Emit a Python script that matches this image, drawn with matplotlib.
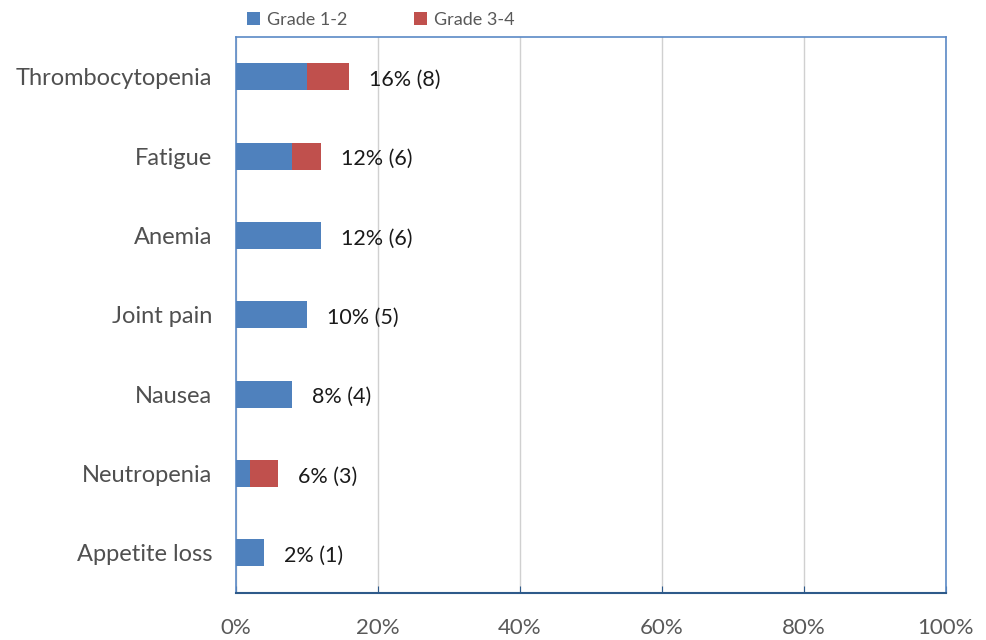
import matplotlib
matplotlib.use("Agg")
import matplotlib.pyplot as plt
from matplotlib.ticker import FuncFormatter

categories = ["Thrombocytopenia", "Fatigue", "Anemia", "Joint pain", "Nausea", "Neutropenia", "Appetite loss"]
grade12 = [10, 8, 12, 10, 8, 2, 4]
grade34 = [6, 4, 0, 0, 0, 4, 0]
labels = ["16% (8)", "12% (6)", "12% (6)", "10% (5)", "8% (4)", "6% (3)", "2% (1)"]
xticks = [0, 20, 40, 60, 80, 100]

plt.rcParams['font.family'] = ['Lato', 'DejaVu Sans']

fig = plt.figure(figsize=(9.86, 6.4), dpi=100)
ax = fig.add_axes([0.239, 0.074, 0.720, 0.868])

blue = "#4f81bd"
red = "#c0504d"
n = len(categories)
ys = [n - 1 - i for i in range(n)]
h = 0.34
ax.barh(ys, grade12, height=h, color=blue, label="Grade 1-2", zorder=3)
ax.barh(ys, grade34, left=grade12, height=h, color=red, label="Grade 3-4", zorder=3)

for y, a, b, t in zip(ys, grade12, grade34, labels):
    ax.annotate(t, xy=(a + b, y), xytext=(20, -3), textcoords="offset pixels",
                va="center", ha="left", fontsize=15.5, color="#1a1a1a")

ax.set_xlim(0, 100)
ax.set_ylim(-0.5, n - 0.5)
ax.set_xticks(xticks)
ax.xaxis.set_major_formatter(FuncFormatter(lambda v, p: f"{int(v)}%"))
ax.set_yticks(ys)
ax.set_yticklabels(categories)
ax.tick_params(axis="y", length=0, pad=17, labelsize=17, labelcolor="#505050")
ax.tick_params(axis="x", direction="in", length=5, color="#2e5a8a", pad=18, labelsize=16, labelcolor="#595959")
ax.grid(axis="x", color="#d0d0d0", linewidth=1, zorder=0)

for s in ["top", "right", "left"]:
    ax.spines[s].set_color("#5b8ac6")
    ax.spines[s].set_linewidth(1.2)
ax.spines["bottom"].set_color("#2e5a8a")
ax.spines["bottom"].set_linewidth(1.5)

leg = fig.legend(loc="upper left", bbox_to_anchor=(0.234, 1.007), ncol=2, frameon=False,
                 fontsize=13, handlelength=0.7, handleheight=0.7, handletextpad=0.4, columnspacing=3.7,
                 labelcolor="#595959")

fig.savefig("out.png", dpi=100)
